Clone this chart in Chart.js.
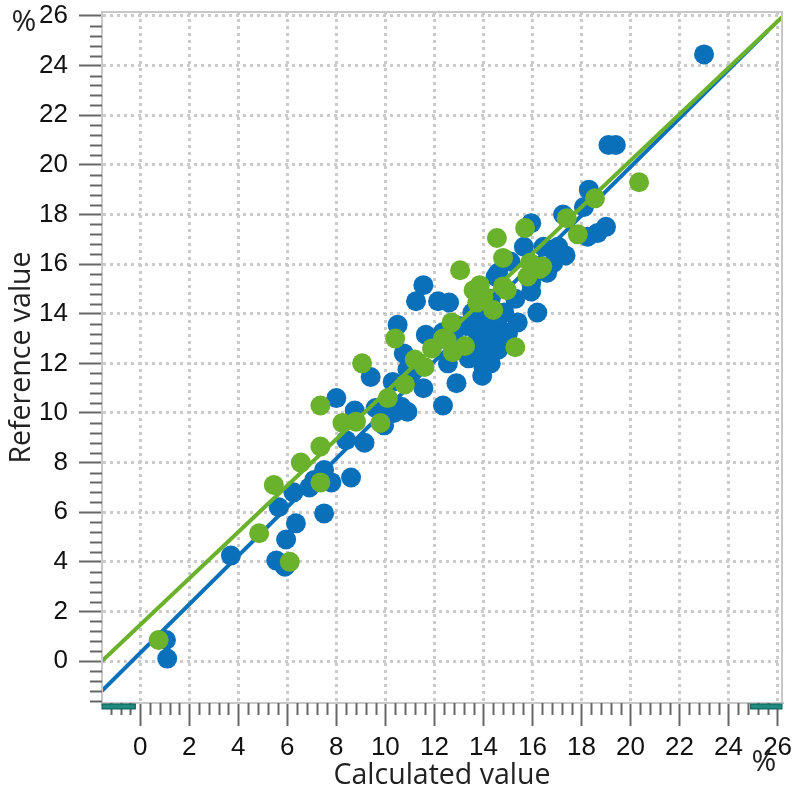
<!DOCTYPE html>
<html>
<head>
    <title>Reference vs Calculated</title>
    <script src="https://cdn.jsdelivr.net/npm/chart.js"></script>
    <style>
        body { margin: 0; background: #fff; }
    </style>
</head>
<body>
    <canvas id="scatterChart" width="800" height="800"></canvas>

    <script>
        // tick labels (major), minor ticks every 0.4
        var xTicks = [0, 2, 4, 6, 8, 10, 12, 14, 16, 18, 20, 22, 24, 26];
        var yTicks = [0, 2, 4, 6, 8, 10, 12, 14, 16, 18, 20, 22, 24, 26];

        // blue series
        var blueX = [1.1, 1.05, 3.7, 5.55, 5.9, 5.95, 6.35, 5.65, 6.25, 6.9,
                     7.1, 7.5, 7.8, 7.5, 8.6, 8.4, 9.15, 9.95, 8.0, 8.75,
                     9.6, 10.35, 10.9, 9.4, 10.3, 11.05, 11.55, 12.9, 12.35, 10.65,
                     10.75, 10.5, 11.65, 12.35, 12.55, 11.25, 11.55, 12.15, 12.6, 13.55,
                     14.85, 15.4, 14.7, 13.75, 13.6, 14.6, 14.0, 13.95, 13.9, 13.3,
                     14.5, 15.95, 16.2, 16.85, 15.1, 15.65, 16.45, 17.05, 17.35, 15.95,
                     17.25, 18.1, 18.3, 19.0, 18.65, 18.25, 19.1, 19.4, 23.0, 16.6,
                     15.95, 14.6, 10.9, 14.3, 15.3, 15.0, 13.0, 12.9, 14.3, 13.9,
                     14.2, 14.0, 13.6, 14.4, 14.2, 13.4, 14.8];
        var blueY = [0.1, 0.85, 4.25, 4.05, 3.8, 4.9, 5.55, 6.2, 6.8, 7.0,
                     7.3, 7.7, 7.2, 5.95, 7.4, 8.9, 8.8, 9.5, 10.6, 10.1,
                     10.2, 10.0, 10.05, 11.45, 11.25, 11.6, 11.0, 11.2, 10.3, 10.25,
                     12.4, 13.55, 13.15, 13.25, 12.0, 14.5, 15.15, 14.5, 14.45, 14.05,
                     14.05, 13.65, 13.35, 13.25, 12.65, 12.55, 11.85, 11.5, 12.25, 13.5,
                     15.5, 14.9, 14.05, 16.05, 16.1, 16.7, 16.7, 16.7, 16.35, 17.65,
                     18.0, 18.3, 19.0, 17.5, 17.25, 17.1, 20.8, 20.8, 24.45, 15.65,
                     15.25, 15.65, 11.75, 14.6, 14.6, 13.2, 13.5, 12.8, 12.0, 13.0,
                     13.7, 14.3, 13.9, 13.0, 12.4, 12.2, 12.9];

        // green series
        var greenX = [0.75, 6.1, 4.85, 5.45, 6.55, 7.35, 7.35, 7.35, 8.25, 8.8,
                      9.05, 9.8, 10.1, 10.8, 10.4, 11.2, 11.6, 11.9, 12.35, 12.75,
                      12.7, 13.25, 12.5, 13.05, 13.6, 14.0, 14.4, 14.95, 15.8, 16.3,
                      15.3, 14.55, 14.8, 14.8, 15.7, 15.9, 16.4, 17.4, 17.85, 18.55,
                      20.35, 13.85, 13.75];
        var greenY = [0.85, 4.0, 5.15, 7.1, 8.0, 8.65, 7.2, 10.3, 9.6, 9.65,
                      12.0, 9.6, 10.6, 11.15, 13.0, 12.15, 11.85, 12.6, 13.0, 12.45,
                      13.65, 12.7, 12.95, 15.75, 14.95, 14.7, 14.15, 14.95, 15.5, 15.8,
                      12.65, 17.05, 16.25, 15.1, 17.45, 16.05, 15.9, 17.85, 17.2, 18.65,
                      19.3, 15.15, 14.45];

        // regression lines (end points)
        var blueLineX = [-1.56, 25.6];
        var blueLineY = [-1.2, 25.4];
        var greenLineX = [-1.56, 26.18];
        var greenLineY = [0.0, 25.95];

        var BLUE = '#0a70ba';
        var GREEN = '#6ab12c';

        function toPoints(xs, ys) {
            return xs.map(function (x, i) { return { x: x, y: ys[i] }; });
        }

        // labels may hang over the plot edges, like in the original
        function noEdgePadding(s) {
            s.paddingTop = 0;
            s.paddingBottom = 0;
            s.paddingLeft = 0;
            s.paddingRight = 0;
        }

        // minor ticks, frame, corner bars and unit labels
        var decorPlugin = {
            id: 'decor',
            afterDraw: function (chart) {
                var ctx = chart.ctx;
                var a = chart.chartArea;
                var sx = chart.scales.x;
                var sy = chart.scales.y;
                ctx.save();

                // frame
                ctx.strokeStyle = '#c8c8c8';
                ctx.lineWidth = 2;
                ctx.strokeRect(a.left, a.top, a.right - a.left, a.bottom - a.top);

                // minor ticks
                ctx.strokeStyle = '#666';
                ctx.lineWidth = 2;
                var k, p;
                for (k = Math.ceil(sx.min / 0.4); k * 0.4 <= sx.max; k++) {
                    if (k % 5 === 0) continue;
                    p = Math.round(sx.getPixelForValue(k * 0.4)) + 0.5;
                    ctx.beginPath();
                    ctx.moveTo(p, a.bottom);
                    ctx.lineTo(p, a.bottom + 12);
                    ctx.stroke();
                }
                for (k = Math.ceil(sy.min / 0.4); k * 0.4 <= sy.max; k++) {
                    if (k % 5 === 0) continue;
                    p = Math.round(sy.getPixelForValue(k * 0.4)) + 0.5;
                    ctx.beginPath();
                    ctx.moveTo(a.left, p);
                    ctx.lineTo(a.left - 12, p);
                    ctx.stroke();
                }

                // teal corner bars under the x axis
                ctx.fillStyle = '#1f8a7e';
                ctx.strokeStyle = '#0f5e57';
                ctx.lineWidth = 1;
                var l1 = sx.getPixelForValue(-1.56), r1 = sx.getPixelForValue(-0.2);
                var l2 = sx.getPixelForValue(24.9), r2 = sx.getPixelForValue(26.18);
                ctx.fillRect(l1, a.bottom + 1, r1 - l1, 5);
                ctx.strokeRect(l1, a.bottom + 1, r1 - l1, 5);
                ctx.fillRect(l2, a.bottom + 1, r2 - l2, 5);
                ctx.strokeRect(l2, a.bottom + 1, r2 - l2, 5);

                // unit labels
                ctx.fillStyle = '#222';
                ctx.font = '30px "Open Sans"';
                ctx.textAlign = 'center';
                ctx.textBaseline = 'middle';
                ctx.fillText('%', 24, 22);
                ctx.fillText('%', 764, 762);
                ctx.restore();
            }
        };

        var ctx = document.getElementById('scatterChart').getContext('2d');
        var chart = new Chart(ctx, {
            type: 'scatter',
            data: {
                datasets: [{
                    type: 'line',
                    data: toPoints(greenLineX, greenLineY),
                    borderColor: GREEN,
                    borderWidth: 4,
                    pointRadius: 0,
                    order: 0
                }, {
                    data: toPoints(greenX, greenY),
                    backgroundColor: GREEN,
                    borderColor: GREEN,
                    pointRadius: 10,
                    borderWidth: 0,
                    order: 1
                }, {
                    type: 'line',
                    data: toPoints(blueLineX, blueLineY),
                    borderColor: BLUE,
                    borderWidth: 4,
                    pointRadius: 0,
                    order: 2
                }, {
                    data: toPoints(blueX, blueY),
                    backgroundColor: BLUE,
                    borderColor: BLUE,
                    pointRadius: 10,
                    borderWidth: 0,
                    order: 3
                }]
            },
            options: {
                responsive: false,
                animation: false,
                layout: { padding: { top: 12, right: 18, left: 0, bottom: 0 } },
                plugins: {
                    legend: { display: false },
                    tooltip: { enabled: false }
                },
                scales: {
                    x: {
                        type: 'linear',
                        min: -1.56,
                        max: 26.18,
                        afterBuildTicks: function (s) {
                            s.ticks = xTicks.map(function (v) { return { value: v }; });
                        },
                        afterFit: function (s) { s.height = 97; noEdgePadding(s); },
                        grid: {
                            color: '#cbcbcb',
                            lineWidth: 3,
                            tickColor: '#666',
                            tickWidth: 2,
                            tickLength: 23
                        },
                        border: { display: true, color: '#c8c8c8', width: 2, dash: [3, 4] },
                        ticks: {
                            color: '#111',
                            font: { family: '"Liberation Sans", Arial, sans-serif', size: 26 },
                            padding: 6,
                            maxRotation: 0,
                            autoSkip: false
                        },
                        title: {
                            display: true,
                            text: 'Calculated value',
                            color: '#222',
                            font: { family: '"Open Sans"', size: 28.5 },
                            padding: { top: 0, bottom: 7 }
                        }
                    },
                    y: {
                        type: 'linear',
                        min: -1.69,
                        max: 26.16,
                        afterBuildTicks: function (s) {
                            s.ticks = yTicks.map(function (v) { return { value: v }; });
                        },
                        afterFit: function (s) { s.width = 102; noEdgePadding(s); },
                        grid: {
                            color: '#cbcbcb',
                            lineWidth: 3,
                            tickColor: '#666',
                            tickWidth: 2,
                            tickLength: 23
                        },
                        border: { display: true, color: '#c8c8c8', width: 2, dash: [3, 4] },
                        ticks: {
                            color: '#111',
                            font: { family: '"Liberation Sans", Arial, sans-serif', size: 26 },
                            padding: 11,
                            autoSkip: false
                        },
                        title: {
                            display: true,
                            text: 'Reference value',
                            color: '#222',
                            font: { family: '"Open Sans"', size: 28.5 },
                            padding: { top: 5, bottom: 0 }
                        }
                    }
                }
            },
            plugins: [decorPlugin]
        });
    </script>
</body>
</html>
